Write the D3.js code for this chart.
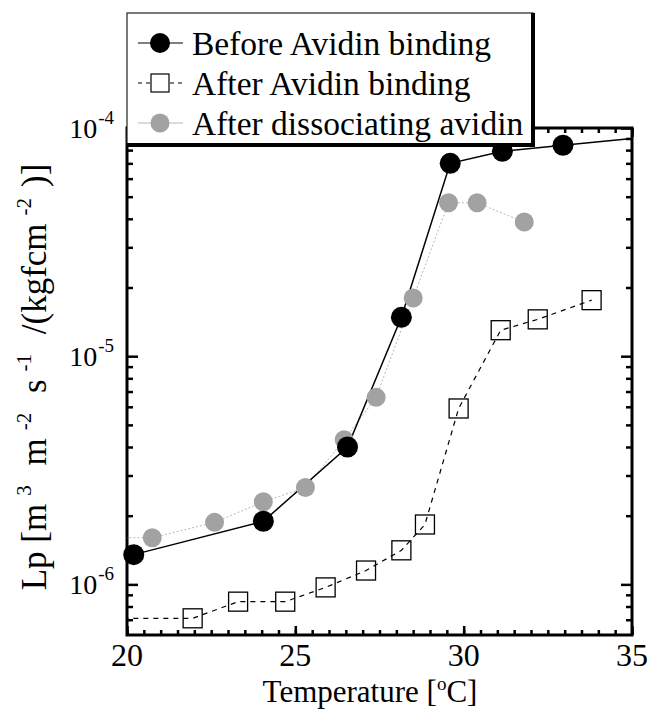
<!DOCTYPE html>
<html lang="en">
<head>
	<meta charset="UTF-8">
	<title>Lp vs temperature</title>
	<script src="https://cdn.jsdelivr.net/npm/d3@7"></script>
	<style>
		body { margin: 0; background: #fff; }
		text { font-family: "Liberation Serif", "Times New Roman", serif; fill: #000; }
	</style>
</head>
<body>
<script type="text/javascript">
	// temperature [C], Lp values
	// points outside 20..35 only carry the line to the frame edge
	var beforeT  = [20.2, 24.05, 26.55, 28.15, 29.6, 31.15, 32.95, 36];
	var beforeLp = [1.35e-6, 1.89e-6, 4.0e-6, 1.48e-5, 7.0e-5, 7.9e-5, 8.4e-5, 9.3e-5];

	var afterT  = [19, 21.95, 23.3, 24.7, 25.9, 27.1, 28.15, 28.85, 29.85, 31.1, 32.2, 33.8];
	var afterLp = [7.1e-7, 7.1e-7, 8.4e-7, 8.4e-7, 9.7e-7, 1.15e-6, 1.41e-6, 1.83e-6, 5.9e-6, 1.3e-5, 1.45e-5, 1.76e-5];

	var dissocT  = [19, 20.75, 22.6, 24.05, 25.3, 26.45, 27.4, 28.5, 29.55, 30.4, 31.8];
	var dissocLp = [1.6e-6, 1.6e-6, 1.87e-6, 2.3e-6, 2.66e-6, 4.3e-6, 6.6e-6, 1.8e-5, 4.7e-5, 4.7e-5, 3.87e-5];

	var xMajor = [20, 25, 30, 35];
	var yMajor = [1e-6, 1e-5, 1e-4];
	var yMajorExp = ['-6', '-5', '-4'];

	var legendNames = ['Before Avidin binding', 'After Avidin binding', 'After dissociating avidin'];

	window.onload = function () {

		var W = 650, H = 719;
		var pL = 127, pR = 632, pT = 128, pB = 635;

		var svg = d3.select('body').append('svg')
			.attr('width', W)
			.attr('height', H);

		var x = d3.scaleLinear().domain([20, 35]).range([pL, pR]);
		var y = d3.scaleLog().domain([6e-7, 1e-4]).range([pB, pT]);

		function zip(ts, vs) {
			return ts.map(function (t, i) { return {t: t, v: vs[i]}; });
		}
		var before = zip(beforeT, beforeLp);
		var after = zip(afterT, afterLp);
		var dissoc = zip(dissocT, dissocLp);

		function inRange(d) { return d.t >= 20 && d.t <= 35; }

		svg.append('clipPath').attr('id', 'plotclip')
			.append('rect')
			.attr('x', pL).attr('y', pT)
			.attr('width', pR - pL).attr('height', pB - pT);

		// ticks, all pointing inward
		var xMinor = d3.range(20, 35.01, 0.5);
		var yMinor = [];
		[1e-7, 1e-6, 1e-5].forEach(function (dec) {
			for (var k = 2; k <= 9; k++) {
				var v = k * dec;
				if (v > 6.01e-7 && v < 1e-4) yMinor.push(v);
			}
		});

		function tickLayer(axis) {
			var g = svg.append('g');
			g.call(axis);
			g.select('.domain').remove();
			g.selectAll('.tick line').attr('stroke-width', 2.5);
			g.selectAll('.tick text').remove();
			return g;
		}
		tickLayer(d3.axisBottom(x).tickValues(xMinor).tickSizeInner(-5).tickSizeOuter(0))
			.attr('transform', 'translate(0,' + pB + ')');
		tickLayer(d3.axisBottom(x).tickValues(xMajor).tickSizeInner(-9).tickSizeOuter(0))
			.attr('transform', 'translate(0,' + pB + ')');
		tickLayer(d3.axisTop(x).tickValues(xMinor).tickSizeInner(-5).tickSizeOuter(0))
			.attr('transform', 'translate(0,' + pT + ')');
		tickLayer(d3.axisTop(x).tickValues(xMajor).tickSizeInner(-9).tickSizeOuter(0))
			.attr('transform', 'translate(0,' + pT + ')');
		tickLayer(d3.axisLeft(y).tickValues(yMinor).tickSizeInner(-6).tickSizeOuter(0))
			.attr('transform', 'translate(' + pL + ',0)');
		tickLayer(d3.axisLeft(y).tickValues(yMajor).tickSizeInner(-11).tickSizeOuter(0))
			.attr('transform', 'translate(' + pL + ',0)');
		tickLayer(d3.axisRight(y).tickValues(yMinor).tickSizeInner(-6).tickSizeOuter(0))
			.attr('transform', 'translate(' + pR + ',0)');
		tickLayer(d3.axisRight(y).tickValues(yMajor).tickSizeInner(-11).tickSizeOuter(0))
			.attr('transform', 'translate(' + pR + ',0)');

		// frame
		svg.append('rect')
			.attr('x', pL).attr('y', pT)
			.attr('width', pR - pL).attr('height', pB - pT)
			.attr('fill', 'none')
			.attr('stroke', '#000')
			.attr('stroke-width', 3);

		// x tick labels
		svg.append('g').selectAll('text')
			.data(xMajor)
			.enter().append('text')
			.attr('x', function (d) { return x(d); })
			.attr('y', 666)
			.attr('text-anchor', 'middle')
			.style('font-size', '32px')
			.text(function (d) { return d; });

		// y tick labels 10^n
		var yl = svg.append('g').selectAll('text')
			.data(yMajor)
			.enter().append('text')
			.attr('x', 114)
			.attr('y', function (d) { return y(d) + 10; })
			.attr('text-anchor', 'end');
		yl.append('tspan').style('font-size', '28px').text('10');
		yl.append('tspan').attr('dy', -14).attr('dx', 1).style('font-size', '19px')
			.text(function (d, i) { return yMajorExp[i]; });

		// axis titles
		var xt = svg.append('text')
			.attr('x', 370).attr('y', 702)
			.attr('text-anchor', 'middle')
			.style('font-size', '31px');
		xt.append('tspan').text('Temperature [');
		xt.append('tspan').attr('dy', -12).style('font-size', '19px').text('o');
		xt.append('tspan').attr('dy', 12).text('C]');

		var yt = svg.append('text')
			.attr('transform', 'translate(46,377) rotate(-90)')
			.attr('text-anchor', 'middle')
			.style('font-size', '35px');
		var ytParts = [['Lp [m', 0], ['3', 1], [' m', 0], ['-2', 1], [' s', 0], ['-1', 1], [' /(kgfcm', 0], ['-2', 1], [')]', 0]];
		var prevSup = 0;
		ytParts.forEach(function (p, i) {
			yt.append('tspan')
				.attr('dy', (p[1] - prevSup) * -15)
				.attr('dx', i === 0 ? 0 : (p[1] ? 8 : 11))
				.style('font-size', p[1] ? '21px' : '35px')
				.text(p[0]);
			prevSup = p[1];
		});

		// series lines
		var line = d3.line()
			.x(function (d) { return x(d.t); })
			.y(function (d) { return y(d.v); });

		var lines = svg.append('g').attr('clip-path', 'url(#plotclip)');
		lines.append('path').datum(dissoc)
			.attr('d', line).attr('fill', 'none')
			.attr('stroke', '#b8b8b8').attr('stroke-width', 1)
			.attr('stroke-dasharray', '2,2');
		lines.append('path').datum(after)
			.attr('d', line).attr('fill', 'none')
			.attr('stroke', '#000').attr('stroke-width', 1.2)
			.attr('stroke-dasharray', '5,5');
		lines.append('path').datum(before)
			.attr('d', line).attr('fill', 'none')
			.attr('stroke', '#000').attr('stroke-width', 1.5);

		// markers
		svg.append('g').selectAll('circle')
			.data(dissoc.filter(inRange))
			.enter().append('circle')
			.attr('cx', function (d) { return x(d.t); })
			.attr('cy', function (d) { return y(d.v); })
			.attr('r', 9.5)
			.attr('fill', '#a2a2a2');

		svg.append('g').selectAll('circle')
			.data(before.filter(inRange))
			.enter().append('circle')
			.attr('cx', function (d) { return x(d.t); })
			.attr('cy', function (d) { return y(d.v); })
			.attr('r', 10.5)
			.attr('fill', '#000');

		svg.append('g').selectAll('rect')
			.data(after.filter(inRange))
			.enter().append('rect')
			.attr('x', function (d) { return x(d.t) - 9.5; })
			.attr('y', function (d) { return y(d.v) - 9.5; })
			.attr('width', 19).attr('height', 19)
			.attr('fill', 'none')
			.attr('stroke', '#000').attr('stroke-width', 1.3);

		// legend box sits over the top-left of the frame
		var lg = svg.append('g');
		lg.append('rect')
			.attr('x', 127).attr('y', 13)
			.attr('width', 406).attr('height', 132)
			.attr('fill', '#fff')
			.attr('stroke', '#222').attr('stroke-width', 1.2);
		lg.append('path')
			.attr('d', 'M533,13V145H127')
			.attr('fill', 'none')
			.attr('stroke', '#000').attr('stroke-width', 4);

		var rows = lg.selectAll('.info')
			.data(legendNames)
			.enter().append('g')
			.attr('class', 'info')
			.attr('transform', function (d, i) { return 'translate(0,' + (43 + i * 40) + ')'; });
		rows.append('line')
			.attr('x1', 138).attr('x2', 183)
			.attr('stroke', function (d, i) { return i === 2 ? '#b8b8b8' : '#000'; })
			.attr('stroke-width', function (d, i) { return i === 2 ? 1 : 1.2; })
			.attr('stroke-dasharray', function (d, i) { return i === 1 ? '4,4' : null; });
		rows.each(function (d, i) {
			var r = d3.select(this);
			if (i === 0) r.append('circle').attr('cx', 160).attr('r', 10).attr('fill', '#000');
			if (i === 1) r.append('rect').attr('x', 151).attr('y', -9).attr('width', 18).attr('height', 18)
				.attr('fill', '#fff').attr('stroke', '#000').attr('stroke-width', 1.2);
			if (i === 2) r.append('circle').attr('cx', 160).attr('r', 9.5).attr('fill', '#a2a2a2');
		});
		rows.append('text')
			.attr('x', 192).attr('y', 12)
			.style('font-size', '33.5px')
			.text(function (d) { return d; });
	};
</script>
</body>
</html>
